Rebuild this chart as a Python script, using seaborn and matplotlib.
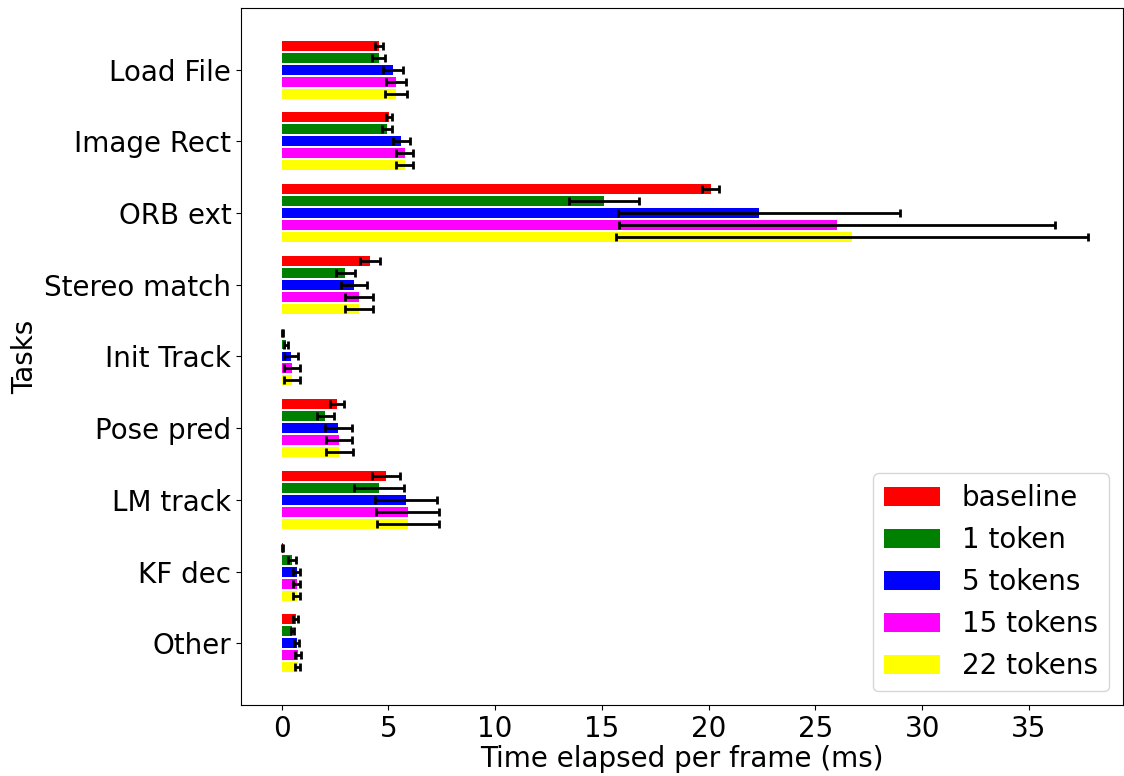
import numpy as np
import pandas as pd
import matplotlib
matplotlib.use("Agg")
import matplotlib.pyplot as plt
import seaborn as sns

tasks = ["Load File", "Image Rect", "ORB ext", "Stereo match", "Init Track",
         "Pose pred", "LM track", "KF dec", "Other"]
configs = ["baseline", "1 token", "5 tokens", "15 tokens", "22 tokens"]
colors = ["red", "green", "blue", "magenta", "yellow"]

baseline = [4.57, 5.04, 20.1, 4.14, 0.03, 2.60, 4.90, 0.06, 0.66]
tok1 = [4.55, 4.94, 15.1, 2.98, 0.21, 2.05, 4.57, 0.49, 0.51]
tok5 = [5.23, 5.61, 22.35, 3.41, 0.45, 2.66, 5.84, 0.70, 0.71]
tok15 = [5.36, 5.77, 26.0, 3.62, 0.49, 2.71, 5.90, 0.70, 0.76]
tok22 = [5.37, 5.77, 26.7, 3.62, 0.48, 2.70, 5.93, 0.70, 0.75]

err_baseline = [0.20, 0.14, 0.40, 0.47, 0.03, 0.32, 0.65, 0.03, 0.11]
err_tok1 = [0.30, 0.22, 1.65, 0.44, 0.10, 0.39, 1.18, 0.17, 0.08]
err_tok5 = [0.47, 0.39, 6.60, 0.61, 0.34, 0.62, 1.45, 0.18, 0.12]
err_tok15 = [0.49, 0.40, 10.2, 0.65, 0.37, 0.61, 1.46, 0.18, 0.15]
err_tok22 = [0.52, 0.39, 11.05, 0.65, 0.37, 0.64, 1.45, 0.18, 0.13]

values = [baseline, tok1, tok5, tok15, tok22]
errors = [err_baseline, err_tok1, err_tok5, err_tok15, err_tok22]

rows = []
for c, vals in zip(configs, values):
    for t, v in zip(tasks, vals):
        rows.append({"Task": t, "Config": c, "Time": v})
df = pd.DataFrame(rows)

plt.rcParams["font.size"] = 20
fig = plt.figure(figsize=(11.24, 7.76), dpi=100)
ax = fig.add_axes([0.2144, 0.0915, 0.7846, 0.8982])

sns.barplot(data=df, x="Time", y="Task", hue="Config", order=tasks,
            hue_order=configs, palette=colors, orient="h", errorbar=None,
            saturation=1, width=0.835, gap=0.17, ax=ax)

for cont, errs in zip(ax.containers, errors):
    ys = [p.get_y() + p.get_height() / 2 for p in cont.patches]
    xs = [p.get_width() for p in cont.patches]
    ax.errorbar(xs, ys, xerr=errs, fmt="none", ecolor="black",
                elinewidth=2, capsize=3, capthick=2)

ax.set_ylim(8.86, -0.86)
ax.set_xlim(-1.9, 39.4)
ax.set_xticks([0, 5, 10, 15, 20, 25, 30, 35])
ax.tick_params(labelsize=20)
ax.set_xlabel("Time elapsed per frame (ms)", fontsize=20, labelpad=2)
ax.set_ylabel("Tasks", fontsize=20)
for s in ax.spines.values():
    s.set_visible(True)
    s.set_color("black")

sns.move_legend(ax, "lower right", title=None, fontsize=20)

fig.savefig("out.png", dpi=100)
